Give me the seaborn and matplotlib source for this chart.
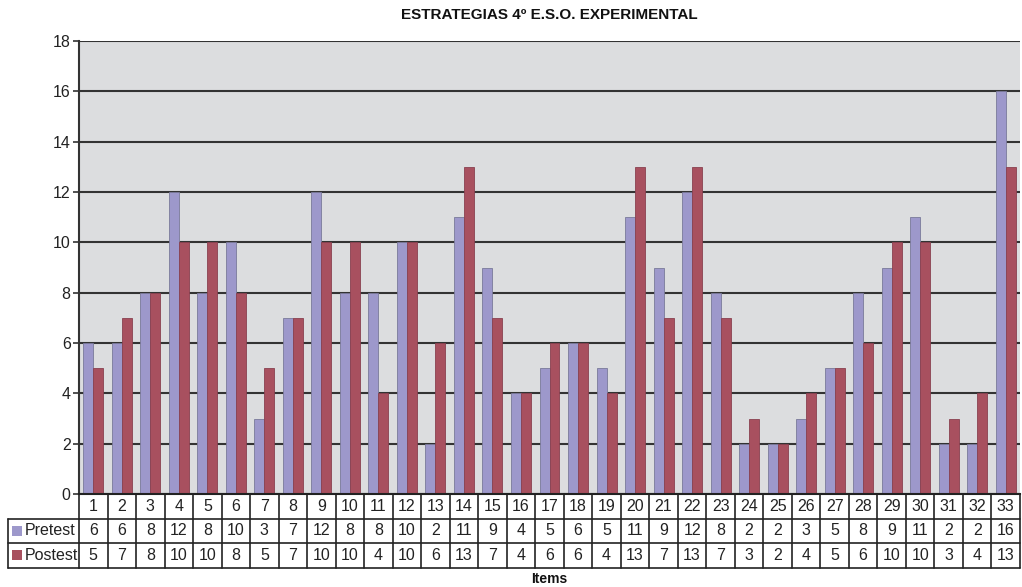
import matplotlib
matplotlib.use("Agg")
import matplotlib.pyplot as plt
import matplotlib.transforms as mtransforms
from matplotlib.patches import Rectangle
import seaborn as sns
import pandas as pd

items = [str(i) for i in range(1, 34)]
pretest = [6, 6, 8, 12, 8, 10, 3, 7, 12, 8, 8, 10, 2, 11, 9, 4, 5, 6, 5, 11, 9,
           12, 8, 2, 2, 3, 5, 8, 9, 11, 2, 2, 16]
postest = [5, 7, 8, 10, 10, 8, 5, 7, 10, 10, 4, 10, 6, 13, 7, 4, 6, 6, 4, 13, 7,
           13, 7, 3, 2, 4, 5, 6, 10, 10, 3, 4, 13]
series = ["Pretest", "Postest"]
colors = ["#9D98CB", "#A8505F"]
yticks = [0, 2, 4, 6, 8, 10, 12, 14, 16, 18]
title = "ESTRATEGIAS 4º E.S.O. EXPERIMENTAL"
xlabel = "Items"

df = pd.DataFrame({
    "item": items * 2,
    "valor": pretest + postest,
    "serie": [series[0]] * len(items) + [series[1]] * len(items),
})

sns.set_theme(style="white")
plt.rcParams["font.family"] = ["Liberation Sans", "DejaVu Sans"]

fig = plt.figure(figsize=(10.22, 5.87), dpi=100)
ax = fig.add_axes([79 / 1022, 1 - 494 / 587, 941 / 1022, 453 / 587])
ax.set_facecolor("#DCDDDF")

sns.barplot(data=df, x="item", y="valor", hue="serie", order=items,
            hue_order=series, palette=colors, saturation=1, width=0.7,
            legend=False, ax=ax, linewidth=0.6, edgecolor="#7a7a9a")
for p in ax.patches:
    if abs(p.get_facecolor()[0] - 0xA8 / 255) < 0.02:
        p.set_edgecolor("#8a4050")

ax.set_ylim(0, 18)
ax.set_xlim(-0.5, len(items) - 0.5)
ax.set_yticks(yticks)
ax.set_yticklabels([str(v) for v in yticks], fontsize=11.5, color="#222222")
ax.yaxis.grid(True, color="#333333", linewidth=1.5)
ax.set_axisbelow(True)
ax.tick_params(axis="y", left=True, length=4, width=1.2, color="#333333", pad=2)
ax.set_xticks([])
ax.set_xlabel("")
ax.set_ylabel("")
for side in ["top", "right"]:
    ax.spines[side].set_visible(False)
ax.spines["left"].set_color("#333333")
ax.spines["left"].set_linewidth(1.5)
ax.spines["bottom"].set_color("#222222")
ax.spines["bottom"].set_linewidth(1.5)

ax.text(0.5, 1 + 26 / 453, title, transform=ax.transAxes, ha="center",
        va="center", fontsize=11, fontweight="bold", color="#111111")

# Data table under the bars
trans = mtransforms.blended_transform_factory(ax.transData, ax.transAxes)
row_h = 24.5 / 453
label_left = -71 / 941
n = len(items)
x0, x1 = -0.5, n - 0.5
lc = "#222222"
lw = 1.2

# horizontal lines
for k in (1, 2, 3):
    ax.plot([0, 1], [-k * row_h] * 2, transform=ax.transAxes, color=lc, lw=lw,
            clip_on=False)
    ax.plot([label_left, 0], [-k * row_h] * 2, transform=ax.transAxes, color=lc,
            lw=lw, clip_on=False)
# vertical lines
for j in range(n + 1):
    ax.plot([x0 + j] * 2, [0, -3 * row_h], transform=trans, color=lc, lw=lw,
            clip_on=False)
ax.plot([label_left] * 2, [-row_h, -3 * row_h], transform=ax.transAxes, color=lc,
        lw=lw, clip_on=False)

# cell texts
for j, it in enumerate(items):
    ax.text(j, -0.5 * row_h, it, transform=trans, ha="center", va="center",
            fontsize=11.5, color="#222222")
    ax.text(j, -1.5 * row_h, str(pretest[j]), transform=trans, ha="center",
            va="center", fontsize=11.5, color="#222222")
    ax.text(j, -2.5 * row_h, str(postest[j]), transform=trans, ha="center",
            va="center", fontsize=11.5, color="#222222")

# row headers with colour keys
sq = 10 / 941
for r, (name, col) in enumerate(zip(series, colors)):
    yc = -(1.5 + r) * row_h
    ax.add_patch(Rectangle((label_left + 4 / 941, yc - 5 / 453), sq, 10 / 453,
                           transform=ax.transAxes, facecolor=col, edgecolor="none",
                           clip_on=False))
    ax.text(label_left + 17 / 941, yc, name, transform=ax.transAxes, ha="left",
            va="center", fontsize=11.5, color="#222222")

ax.text(0.5, -85 / 453, xlabel, transform=ax.transAxes, ha="center", va="center",
        fontsize=10, fontweight="bold", color="#111111")

fig.savefig("out.png", dpi=100, facecolor="white")
